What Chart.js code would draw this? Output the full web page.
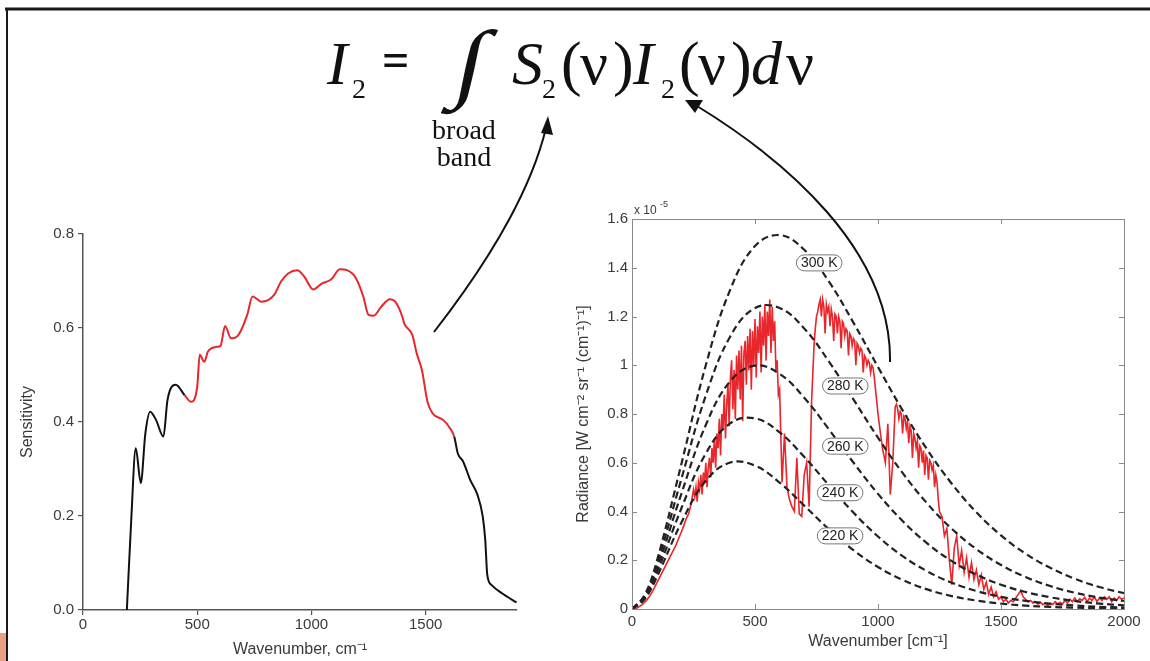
<!DOCTYPE html>
<html><head><meta charset="utf-8">
<script src="https://cdn.jsdelivr.net/npm/chart.js@4.4.1/dist/chart.umd.min.js"></script>
<style>
html,body{margin:0;padding:0;background:#fff;width:1150px;height:661px;overflow:hidden;}
#wrap{position:relative;width:1150px;height:661px;}
#c1{position:absolute;left:10px;top:220px;}
#c2{position:absolute;left:560px;top:195px;}
svg{position:absolute;left:0;top:0;}
</style></head><body>
<div id="wrap">
<canvas id="c1" width="515" height="441"></canvas>
<canvas id="c2" width="590" height="466"></canvas>
<svg width="1150" height="661" viewBox="0 0 1150 661">
  <rect x="0" y="633" width="6" height="28" fill="#e9a088"/>
  <line x1="5" y1="9" x2="1150" y2="9" stroke="#1a1a1a" stroke-width="3"/>
  <line x1="7" y1="8" x2="7" y2="661" stroke="#1a1a1a" stroke-width="2"/>
  <g font-family="'Liberation Serif','Times New Roman',serif" fill="#111">
    <text x="327" y="84" font-size="62" font-style="italic">I</text>
    <text x="352" y="98" font-size="28">2</text>
    <text x="382" y="76" font-size="48" font-weight="bold">=</text>
    <text transform="translate(451,91) skewX(-12) scale(1.05,0.87)" font-size="100">∫</text>
    <text x="512" y="84" font-size="62" font-style="italic">S</text>
    <text x="542" y="98" font-size="28">2</text>
    <text x="561" y="84" font-size="62">(</text>
    <text x="580" y="84" font-size="62">ν</text>
    <text x="613" y="84" font-size="62">)</text>
    <text x="633" y="84" font-size="62" font-style="italic">I</text>
    <text x="661" y="98" font-size="28">2</text>
    <text x="679" y="84" font-size="62">(</text>
    <text x="698" y="84" font-size="62">ν</text>
    <text x="731" y="84" font-size="62">)</text>
    <text x="751" y="84" font-size="62" font-style="italic">d</text>
    <text x="786" y="84" font-size="62">ν</text>
    <text x="464" y="139" font-size="28" text-anchor="middle">broad</text>
    <text x="464" y="166" font-size="28" text-anchor="middle">band</text>
  </g>
  <path d="M434,332 Q525,215 546,128" fill="none" stroke="#111" stroke-width="2"/>
  <polygon points="548,116 541,133 553,135" fill="#111"/>
  <path d="M890,362 C892,250 785,160 697,106" fill="none" stroke="#111" stroke-width="2"/>
  <polygon points="685,100 703,100 695,113" fill="#111"/>
</svg>
</div>
<script>
// ---------- left chart: sensitivity ----------
const sensWn = [192, 211, 231, 253, 273, 294, 320, 352, 370, 406, 445, 473, 500, 511, 531, 547, 586, 602, 622, 648, 680, 719, 742, 781, 836, 867, 898, 938, 969, 1008, 1047, 1086, 1125, 1156, 1195, 1227, 1250, 1273, 1305, 1344, 1367, 1398, 1406, 1442, 1461, 1484, 1508, 1531, 1578, 1602, 1625, 1641, 1664, 1695, 1727, 1750, 1761, 1770, 1789, 1836, 1898];
const sensVal = [0, 0.19, 0.344, 0.27, 0.376, 0.422, 0.404, 0.369, 0.447, 0.479, 0.457, 0.443, 0.475, 0.543, 0.528, 0.55, 0.56, 0.562, 0.604, 0.578, 0.585, 0.628, 0.667, 0.656, 0.67, 0.699, 0.716, 0.723, 0.709, 0.682, 0.695, 0.703, 0.725, 0.723, 0.706, 0.667, 0.628, 0.626, 0.645, 0.661, 0.656, 0.624, 0.61, 0.585, 0.546, 0.51, 0.443, 0.418, 0.404, 0.39, 0.369, 0.333, 0.316, 0.277, 0.245, 0.199, 0.149, 0.074, 0.053, 0.035, 0.016];
const bandStart = 445, bandEnd = 1625;
const sensXTicks = [0, 500, 1000, 1500];
const sensYTicks = [0, 0.2, 0.4, 0.6, 0.8];

// ---------- right chart: radiance (units of 1e-5) ----------
const planckWn = [0, 50, 100, 200, 300, 400, 500, 600, 700, 800, 900, 1000, 1100, 1200, 1300, 1400, 1500, 1600, 1700, 1800, 1900, 2000];
const planck300 = [0, 0.0549, 0.1935, 0.592, 1.000, 1.312, 1.489, 1.534, 1.474, 1.344, 1.175, 0.993, 0.815, 0.654, 0.514, 0.397, 0.302, 0.227, 0.169, 0.124, 0.090, 0.065];
const planck280 = [0, 0.0508, 0.1773, 0.5309, 0.8758, 1.1193, 1.2348, 1.2350, 1.1511, 1.0162, 0.8599, 0.7027, 0.5582, 0.4329, 0.3289, 0.2457, 0.1807, 0.1311, 0.0941, 0.0668, 0.0470, 0.0328];
const planck260 = [0, 0.0467, 0.1611, 0.4706, 0.7548, 0.9355, 0.9986, 0.9646, 0.8670, 0.7375, 0.6009, 0.4724, 0.3609, 0.2692, 0.1967, 0.1412, 0.0998, 0.0697, 0.0481, 0.0328, 0.0222, 0.0149];
const planck240 = [0, 0.0426, 0.1450, 0.4112, 0.6380, 0.7623, 0.7821, 0.7249, 0.6242, 0.5081, 0.3957, 0.2975, 0.2172, 0.1547, 0.1080, 0.0740, 0.0500, 0.0333, 0.0219, 0.0143, 0.0092, 0.0059];
const planck220 = [0, 0.0385, 0.1290, 0.3530, 0.5261, 0.6011, 0.5882, 0.5187, 0.4241, 0.3275, 0.2419, 0.1723, 0.1192, 0.0804, 0.0531, 0.0345, 0.0221, 0.0139, 0.0087, 0.0054, 0.0033, 0.0020];
const tempNames = ['300 K', '280 K', '260 K', '240 K', '220 K'];
const tempLabelWn = [761, 867, 867, 846, 846];
const tempLabelVal = [1.42, 0.915, 0.668, 0.477, 0.30];

const radWn = [
 0,10,20,30,40,50,60,70,80,90,100,110,120,130,140,150,160,170,180,190,200,210,220,230,240,
 250,255,260,265,270,275,280,285,290,295,
 300,305,310,315,320,325,330,335,340,345,
 350,355,360,365,370,375,380,385,390,395,
 400,405,410,415,420,425,430,435,440,445,
 450,455,460,465,470,475,480,485,490,495,
 500,505,510,515,520,525,530,535,540,545,
 550,555,560,565,570,575,580,585,590,595,
 600,
 610,620,630,640,650,660,670,680,690,700,710,720,730,
 740,745,750,755,760,765,770,775,780,785,
 790,795,800,805,810,815,820,825,830,835,
 840,845,850,855,860,865,870,875,880,885,
 890,895,900,905,910,915,920,925,930,935,
 940,945,950,955,960,965,970,975,980,985,
 990,995,1000,
 1010,1020,1030,1040,1050,1060,1070,
 1075,1080,1085,1090,1095,1100,1105,1110,1115,1120,
 1125,1130,1135,1140,1145,1150,1155,1160,1165,1170,
 1175,1180,1185,1190,1195,1200,1205,1210,1215,1220,
 1225,1230,1235,1240,1245,1250,
 1260,1270,1280,1290,
 1300,1310,1320,1330,1340,1350,1360,1370,1380,1390,
 1400,1410,1420,1430,1440,1450,1460,1470,1480,1490,
 1500,1510,1520,1530,1540,1550,1560,1570,1580,1590,
 1600,1610,1620,1630,1640,1650,1660,1670,1680,1690,
 1700,1710,1720,1730,1740,1750,1760,1770,1780,1790,
 1800,1810,1820,1830,1840,1850,1860,1870,1880,1890,
 1900,1910,1920,1930,1940,1950,1960,1970,1980,1990,
 2000];
const radVal = [
 0, 0.001, 0.004, 0.01, 0.017, 0.026, 0.037, 0.05, 0.066, 0.085, 0.105, 0.125, 0.145, 0.165, 0.185, 0.205, 0.225, 0.245, 0.265, 0.29, 0.315, 0.34, 0.37, 0.39, 0.43,
 0.49, 0.46, 0.5, 0.44, 0.52, 0.49, 0.55, 0.47, 0.56, 0.52,
 0.6, 0.5, 0.58, 0.62, 0.54, 0.66, 0.6, 0.7, 0.58, 0.72,
 0.66, 0.78, 0.63, 0.8, 0.74, 0.88, 0.7, 0.84, 0.92, 0.75,
 0.95, 1.02, 0.82, 0.98, 0.78, 1.04, 0.9, 1.06, 0.86, 1.08,
 0.77, 1.05, 1.1, 0.92, 1.12, 0.98, 1.15, 0.9, 1.14, 1.0,
 1.19, 0.95, 1.16, 1.05, 1.22, 0.97, 1.2, 1.08, 1.25, 1.02,
 1.22, 1.12, 1.27, 1.05, 1.24, 1.1, 1.18, 0.98, 1.02, 0.88,
 0.9,
 0.52, 0.72, 0.5, 0.45, 0.42, 0.4, 0.62, 0.39, 0.38, 0.55, 0.6, 0.42, 0.85,
 1.08, 1.15, 1.2, 1.22, 1.25, 1.27, 1.2, 1.27, 1.24, 1.13,
 1.25, 1.22, 1.24, 1.16, 1.23, 1.2, 1.1, 1.21, 1.2, 1.13,
 1.2, 1.18, 1.07, 1.18, 1.17, 1.12, 1.15, 1.14, 1.04, 1.13,
 1.12, 1.08, 1.11, 1.1, 1.0, 1.09, 1.08, 1.05, 1.07, 1.06,
 0.97, 1.04, 1.03, 1.0, 1.02, 1.01, 0.97, 1.0, 0.99, 0.95,
 0.9, 0.85, 0.8,
 0.72, 0.65, 0.6, 0.76, 0.47, 0.6, 0.83,
 0.84, 0.82, 0.78, 0.81, 0.8, 0.72, 0.79, 0.78, 0.74, 0.77,
 0.68, 0.75, 0.73, 0.62, 0.72, 0.7, 0.66, 0.69, 0.58, 0.67,
 0.66, 0.6, 0.65, 0.55, 0.63, 0.62, 0.53, 0.61, 0.6, 0.57,
 0.59, 0.5, 0.55, 0.52, 0.45, 0.4,
 0.38, 0.3, 0.33, 0.2,
 0.1, 0.25, 0.3, 0.18, 0.24, 0.15, 0.21, 0.13, 0.19, 0.12,
 0.16, 0.1, 0.14, 0.08, 0.11, 0.06, 0.09, 0.05, 0.07, 0.04,
 0.05, 0.03, 0.04, 0.025, 0.035, 0.03, 0.045, 0.06, 0.075, 0.05,
 0.04, 0.03, 0.035, 0.025, 0.03, 0.02, 0.028, 0.018, 0.025, 0.015,
 0.022, 0.018, 0.03, 0.02, 0.028, 0.02, 0.035, 0.025, 0.04, 0.03,
 0.045, 0.03, 0.042, 0.035, 0.048, 0.03, 0.045, 0.035, 0.05, 0.03,
 0.045, 0.035, 0.05, 0.04, 0.05, 0.03, 0.045, 0.035, 0.05, 0.04,
 0.045];
const radXTicks = [0, 500, 1000, 1500, 2000];
const radYTicks = [0, 0.2, 0.4, 0.6, 0.8, 1.0, 1.2, 1.4, 1.6];

const RED = '#e8262b';
const TXT = '#3a3a3a';
const FONT = "'Liberation Sans', Arial, sans-serif";
Chart.defaults.font.family = FONT;

const pts = (xs, ys) => xs.map((x, i) => ({x: x, y: ys[i]}));

new Chart(document.getElementById('c1'), {
  type: 'line',
  data: { datasets: [{
    data: pts(sensWn, sensVal),
    borderColor: '#111', borderWidth: 2, pointRadius: 0,
    cubicInterpolationMode: 'monotone',
    segment: { borderColor: c => (c.p0.parsed.x >= bandStart && c.p1.parsed.x <= bandEnd) ? RED : '#111' }
  }]},
  options: {
    responsive: false, animation: false, events: [],
    layout: { padding: { left: 0, right: 8, top: 14, bottom: 0 } },
    plugins: { legend: { display: false }, tooltip: { enabled: false } },
    scales: {
      x: {
        type: 'linear', min: 0, max: 1900,
        afterBuildTicks: a => { a.ticks = sensXTicks.map(v => ({value: v})); },
        afterFit: a => { a.height = 51; },
        grid: { drawOnChartArea: false, drawTicks: true, tickLength: 5, color: '#555', lineWidth: 1.2 },
        border: { color: '#555', width: 1.5 },
        ticks: { color: TXT, font: { size: 15 }, padding: 1, maxRotation: 0, callback: v => String(v) },
        title: { display: true, text: 'Wavenumber, cm⁻¹', color: TXT, font: { size: 16 }, padding: { top: 0, bottom: 2 } }
      },
      y: {
        type: 'linear', min: 0, max: 0.8,
        afterBuildTicks: a => { a.ticks = sensYTicks.map(v => ({value: v})); },
        afterFit: a => { a.width = 73; },
        grid: { drawOnChartArea: false, drawTicks: true, tickLength: 5, color: '#555', lineWidth: 1.2 },
        border: { color: '#555', width: 1.5 },
        ticks: { color: TXT, font: { size: 15 }, padding: 4, callback: v => v.toFixed(1) },
        title: { display: true, text: 'Sensitivity', color: TXT, font: { size: 16 }, padding: { top: 8, bottom: 0 } }
      }
    }
  }
});

const framePlugin = {
  id: 'frame',
  afterDatasetsDraw(chart) {
    const {ctx, chartArea: {left, right, top, bottom}, scales: {x, y}} = chart;
    ctx.save();
    ctx.strokeStyle = '#8a8a8a'; ctx.lineWidth = 1;
    ctx.strokeRect(left + 0.5, top + 0.5, right - left, bottom - top);
    ctx.beginPath();
    radXTicks.forEach(v => {
      const px = Math.round(x.getPixelForValue(v)) + 0.5;
      ctx.moveTo(px, bottom); ctx.lineTo(px, bottom - 5);
      ctx.moveTo(px, top); ctx.lineTo(px, top + 5);
    });
    radYTicks.forEach(v => {
      const py = Math.round(y.getPixelForValue(v)) + 0.5;
      ctx.moveTo(left, py); ctx.lineTo(left + 5, py);
      ctx.moveTo(right, py); ctx.lineTo(right - 5, py);
    });
    ctx.stroke();
    // temperature labels
    ctx.font = '14px ' + FONT;
    ctx.textAlign = 'center'; ctx.textBaseline = 'middle';
    tempNames.forEach((t, i) => {
      const cx = x.getPixelForValue(tempLabelWn[i]);
      const cy = y.getPixelForValue(tempLabelVal[i]);
      const w = ctx.measureText(t).width + 9, h = 16;
      ctx.beginPath();
      ctx.roundRect(cx - w / 2, cy - h / 2, w, h, 8);
      ctx.fillStyle = '#fff'; ctx.fill();
      ctx.strokeStyle = '#777'; ctx.lineWidth = 1; ctx.stroke();
      ctx.fillStyle = '#222';
      ctx.fillText(t, cx, cy + 0.5);
    });
    // exponent
    ctx.textAlign = 'left'; ctx.textBaseline = 'alphabetic';
    ctx.fillStyle = TXT;
    ctx.font = '12px ' + FONT;
    ctx.fillText('x 10', left + 2, top - 5);
    ctx.font = '9px ' + FONT;
    ctx.fillText('-5', left + 28, top - 12);
    ctx.restore();
  }
};

const dashed = (vals) => ({
  data: pts(planckWn, vals), borderColor: '#222', borderWidth: 2.2,
  borderDash: [7, 4], pointRadius: 0, tension: 0.4
});

new Chart(document.getElementById('c2'), {
  type: 'line',
  data: { datasets: [
    dashed(planck300), dashed(planck280), dashed(planck260), dashed(planck240), dashed(planck220),
    { data: pts(radWn, radVal), borderColor: RED, borderWidth: 1.6, pointRadius: 0, tension: 0 }
  ]},
  options: {
    responsive: false, animation: false, events: [],
    layout: { padding: { left: 0, right: 26, top: 24, bottom: 0 } },
    plugins: { legend: { display: false }, tooltip: { enabled: false } },
    scales: {
      x: {
        type: 'linear', min: 0, max: 2000,
        afterBuildTicks: a => { a.ticks = radXTicks.map(v => ({value: v})); },
        afterFit: a => { a.height = 52; },
        grid: { display: false, drawTicks: false },
        border: { color: '#8a8a8a', width: 1 },
        ticks: { color: TXT, font: { size: 15 }, padding: 4, maxRotation: 0, callback: v => String(v) },
        title: { display: true, text: 'Wavenumber [cm⁻¹]', color: TXT, font: { size: 16 }, padding: { top: 0, bottom: 10 } }
      },
      y: {
        type: 'linear', min: 0, max: 1.6,
        afterBuildTicks: a => { a.ticks = radYTicks.map(v => ({value: v})); },
        afterFit: a => { a.width = 72; },
        grid: { display: false, drawTicks: false },
        border: { color: '#8a8a8a', width: 1 },
        ticks: { color: TXT, font: { size: 15 }, padding: 4, callback: v => String(+v.toFixed(1)) },
        title: { display: true, text: 'Radiance [W cm⁻² sr⁻¹ (cm⁻¹)⁻¹]', color: TXT, font: { size: 16 }, padding: { top: 14, bottom: 0 } }
      }
    }
  },
  plugins: [framePlugin]
});
</script>
</body></html>
